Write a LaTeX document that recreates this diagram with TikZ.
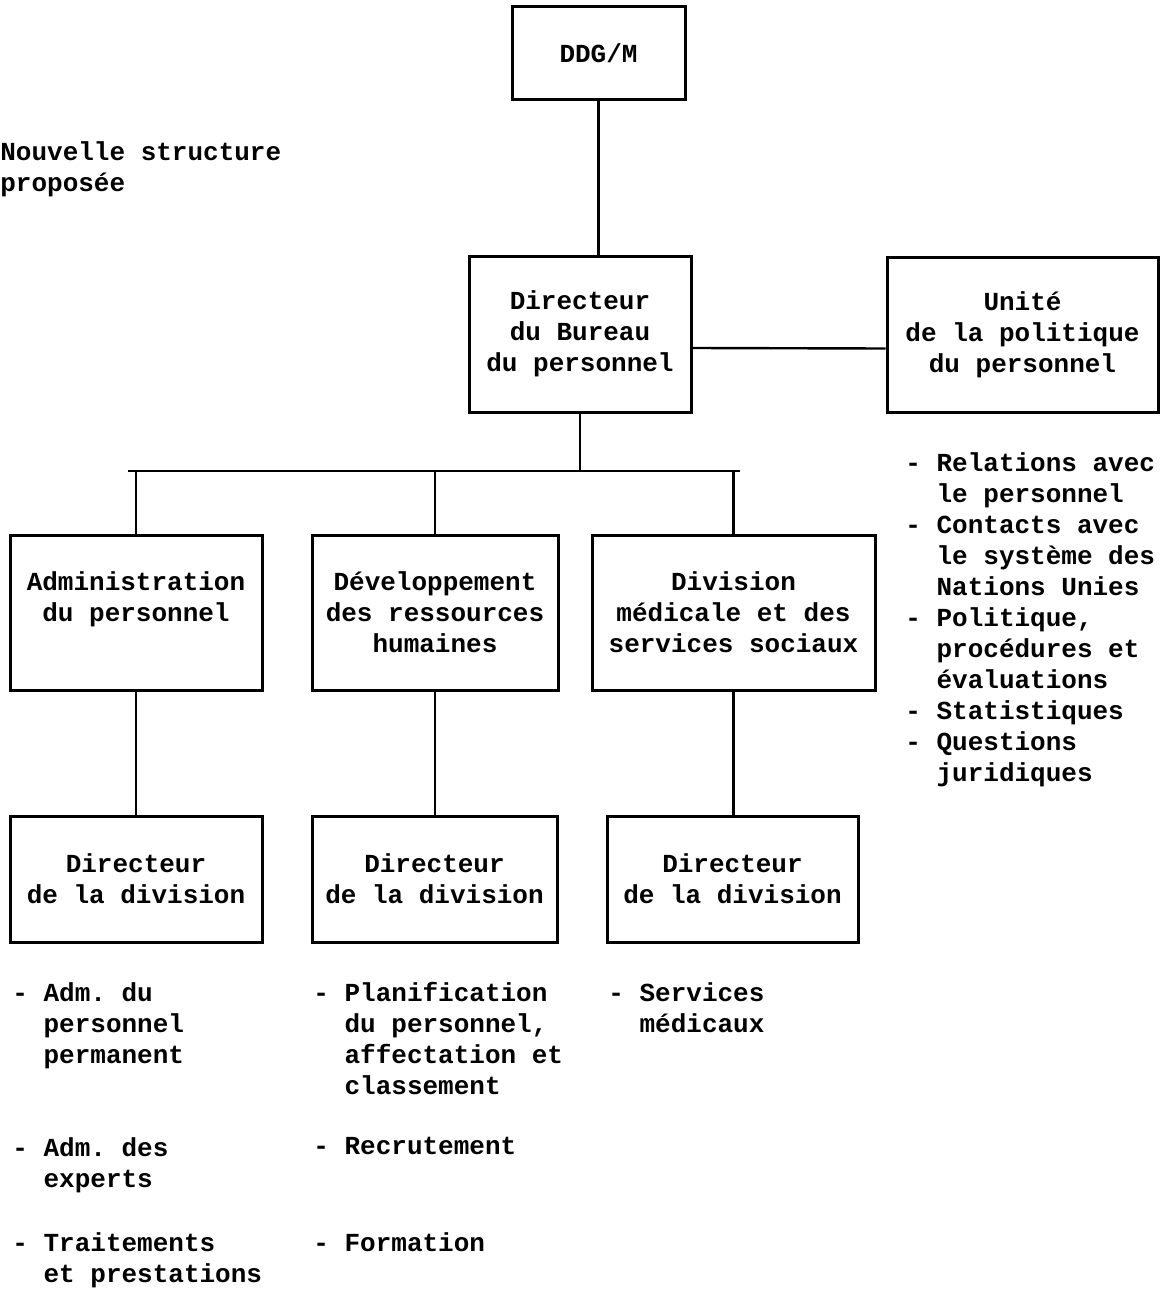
\documentclass[tikz,border=0pt]{standalone}
\usepackage{fontspec}
\setmainfont{Liberation Mono}
\frenchspacing
\newcommand{\ind}{\hphantom{-\ }}
\begin{document}
\begin{tikzpicture}[x=0.5pt,y=-0.5pt,
  font=\bfseries\fontsize{13}{15.5}\selectfont,
  box/.style={draw,line width=1.5pt,inner sep=0pt,align=center},
  wh/.style 2 args={minimum width=#1*0.5pt,minimum height=#2*0.5pt},
  liste/.style={inner sep=0pt,align=left,anchor=north west},
  trait/.style={line width=1.2pt}]
  \useasboundingbox (0,0) rectangle (1170,1289);

  %%%%%%%%%%%%%%%Title%%%%%%%%%%%%%%%%%%%%%%
  \node[liste] (titre) at (0,141) {Nouvelle structure\\proposée};

  %%%%%%%%%%%%%%%Top of the chart%%%%%%%%%%%%%%%%%%%%%%
  \node[box,wh={173}{93}] (ddg) at (598.5,53.5) {DDG/M};
  \node[box,wh={222}{156}] (dir) at (580,334) {Directeur\\du Bureau\\du personnel};
  \node[box,wh={271}{155}] (unite) at (1022.5,334.5) {Unité\\de la politique\\du personnel};

  \draw[trait] (ddg.south) -- (ddg.south |- dir.north);
  \draw[trait] ([yshift=-7pt]dir.east) -- ([yshift=-7pt]unite.west);

  %%%%%%%%%%%%%%%The three divisions%%%%%%%%%%%%%%%%%%%%%%
  \node[box,wh={252}{155}] (adm) at (136,612.5) {Administration\\du personnel\\\mbox{}};
  \node[box,wh={246}{155}] (dev) at (435,612.5) {Développement\\des ressources\\humaines};
  \node[box,wh={283}{155}] (med) at (733.5,612.5) {Division\\médicale et des\\services sociaux};

  \coordinate (busL) at (128,471);
  \coordinate (busR) at (740,471);
  \draw[trait] (busL) -- (busR);
  \draw[trait] (dir.south) -- (dir.south |- busL);
  \draw[trait] (adm.north |- busL) -- (adm.north);
  \draw[trait] (dev.north |- busL) -- (dev.north);
  \draw[trait] (med.north |- busL) -- (med.north);

  %%%%%%%%%%%%%%%Directors of the divisions%%%%%%%%%%%%%%%%%%%%%%
  \node[box,wh={252}{126}] (dadm) at (136,879) {Directeur\\de la division};
  \node[box,wh={245}{126}] (ddev) at (434.5,879) {Directeur\\de la division};
  \node[box,wh={251}{126}] (dmed) at (732.5,879) {Directeur\\de la division};

  \draw[trait] (adm.south) -- (adm.south |- dadm.north);
  \draw[trait] (dev.south) -- (dev.south |- ddev.north);
  \draw[trait] (med.south) -- (med.south |- dmed.north);

  %%%%%%%%%%%%%%%Tasks%%%%%%%%%%%%%%%%%%%%%%
  \node[liste] (tunite) at (905,452) {- Relations avec\\\ind le personnel\\- Contacts avec\\\ind le système des\\\ind Nations Unies\\- Politique,\\\ind procédures et\\\ind évaluations\\- Statistiques\\- Questions\\\ind juridiques};

  \node[liste] (tadm1) at (12,982) {- Adm. du\\\ind personnel\\\ind permanent};
  \node[liste] (tadm2) at (12,1137) {- Adm. des\\\ind experts};
  \node[liste] (tadm3) at (12,1232) {- Traitements\\\ind et prestations};

  \node[liste] (tdev1) at (313,982) {- Planification\\\ind du personnel,\\\ind affectation et\\\ind classement};
  \node[liste] (tdev2) at (313,1137) {- Recrutement};
  \node[liste] (tdev3) at (313,1232) {- Formation};

  \node[liste] (tmed1) at (608,982) {- Services\\\ind médicaux};
\end{tikzpicture}
\end{document}
